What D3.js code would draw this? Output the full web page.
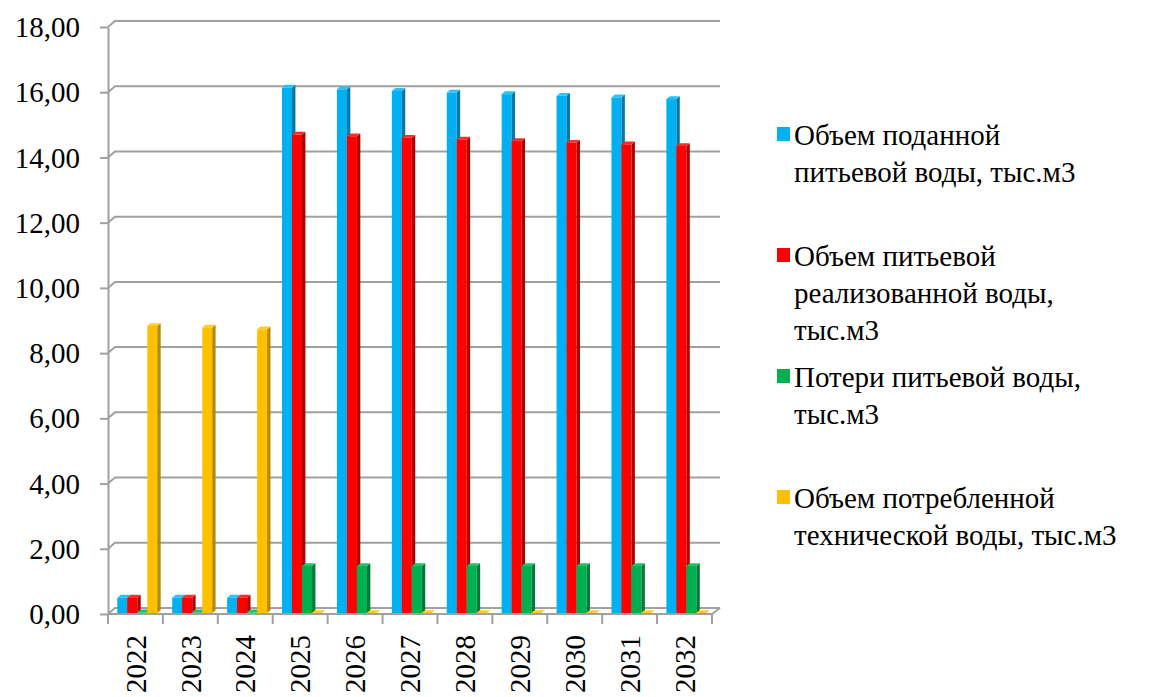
<!DOCTYPE html>
<html>
<head>
<meta charset="utf-8">
<script src="https://cdn.jsdelivr.net/npm/d3@7/dist/d3.min.js"></script>
</head>
<body style="margin:0">
<script>
var years = ["2022", "2023", "2024", "2025", "2026", "2027", "2028", "2029", "2030", "2031", "2032"];
var supplied = [0.47, 0.47, 0.47, 16.11, 16.06, 16.01, 15.96, 15.91, 15.86, 15.81, 15.76];
var realized = [0.47, 0.47, 0.47, 14.67, 14.62, 14.57, 14.52, 14.47, 14.42, 14.37, 14.32];
var losses = [0.02, 0.02, 0.02, 1.44, 1.44, 1.44, 1.44, 1.44, 1.44, 1.44, 1.44];
var technical = [8.80, 8.75, 8.70, 0, 0, 0, 0, 0, 0, 0, 0];
var yTicks = [0, 2, 4, 6, 8, 10, 12, 14, 16, 18];
var legendLines = [
    ["Объем поданной", "питьевой воды, тыс.м3"],
    ["Объем питьевой", "реализованной воды,", "тыс.м3"],
    ["Потери питьевой воды,", "тыс.м3"],
    ["Объем потребленной", "технической воды, тыс.м3"]
];

var series = [
    {key: "supplied", values: supplied, front: "#00b0f0", side: "#0479a8", top: "#2cc0f4"},
    {key: "realized", values: realized, front: "#ff0000", side: "#b00000", top: "#ff2a2a"},
    {key: "losses", values: losses, front: "#00b050", side: "#007a37", top: "#1fc066"},
    {key: "technical", values: technical, front: "#ffc000", side: "#b88a00", top: "#ffcb2a"}
];

var width = 1150, height = 697;
var left = 108, right = 712;
var depthX = 7, depthY = 6;      // wall depth
var barDX = 3.4, barDY = 2.8;    // bar depth
var gridColor = "#a0a0a0";
var fontName = "'Liberation Serif'";
var k = 29 / 40;                 // text drawn at 40px, scaled down to 29px

var svg = d3.select("body").append("svg")
    .attr("width", width)
    .attr("height", height);

var xScale = d3.scaleBand()
    .domain(years)
    .range([left, right]);

var sScale = d3.scaleBand()
    .domain(series.map(s => s.key))
    .range([9.3, 49.3]);

var yScale = d3.scaleLinear()
    .domain([0, 18])
    .range([614, 27]);

// helper: text placed at (x, y), optionally rotated
function label(parent, x, y, str, anchor, rot) {
    var g = parent.append("g")
        .attr("transform", "translate(" + x + "," + y + ")" + (rot ? " rotate(" + rot + ")" : "") + " scale(" + k + ")");
    return g.append("text")
        .attr("text-anchor", anchor || "start")
        .style("font-family", fontName)
        .style("font-size", "40px")
        .attr("fill", "#000")
        .text(str);
}

// back wall gridlines with the slanted left part
svg.append("g").selectAll("path")
    .data(yTicks)
    .enter().append("path")
    .attr("d", d => "M" + left + "," + yScale(d) +
        "L" + (left + depthX) + "," + (yScale(d) - depthY) +
        "L" + (right + depthX + 1) + "," + (yScale(d) - depthY))
    .attr("fill", "none")
    .attr("stroke", gridColor)
    .attr("stroke-width", 2);

// floor
svg.append("path")
    .attr("d", "M" + left + "," + yScale(0) + "L" + right + "," + yScale(0) +
        "L" + (right + depthX + 1) + "," + (yScale(0) - depthY))
    .attr("fill", "none")
    .attr("stroke", gridColor)
    .attr("stroke-width", 2);

// category ticks
var bounds = years.map(d => xScale(d)).concat([right]);
svg.append("g").selectAll("line")
    .data(bounds)
    .enter().append("line")
    .attr("x1", d => d).attr("x2", d => d)
    .attr("y1", yScale(0)).attr("y2", yScale(0) + 10)
    .attr("stroke", gridColor)
    .attr("stroke-width", 2);

// bars
var barBase = yScale(0) - 1;
var bw = sScale.bandwidth();

years.forEach((year, i) => {
    var g = svg.append("g");
    series.forEach(s => {
        var x0 = xScale(year) + sScale(s.key);
        var yTop = yScale(s.values[i]) - 1;
        g.append("rect")
            .attr("x", x0)
            .attr("y", yTop)
            .attr("width", bw)
            .attr("height", barBase - yTop)
            .attr("fill", s.front);
        g.append("path")
            .attr("d", "M" + (x0 + bw) + "," + yTop +
                "L" + (x0 + bw + barDX) + "," + (yTop - barDY) +
                "L" + (x0 + bw + barDX) + "," + (barBase - barDY) +
                "L" + (x0 + bw) + "," + barBase + "Z")
            .attr("fill", s.side);
        g.append("path")
            .attr("d", "M" + x0 + "," + yTop +
                "L" + (x0 + barDX) + "," + (yTop - barDY) +
                "L" + (x0 + bw + barDX) + "," + (yTop - barDY) +
                "L" + (x0 + bw) + "," + yTop + "Z")
            .attr("fill", s.top);
    });
});

// y axis line and ticks
var yAxis = d3.axisLeft(yScale)
    .tickValues(yTicks)
    .tickSize(8)
    .tickSizeOuter(0)
    .tickFormat("");

var yAxisG = svg.append("g")
    .attr("transform", "translate(" + left + ",0)")
    .call(yAxis);

yAxisG.selectAll("path, line")
    .attr("stroke", gridColor)
    .attr("stroke-width", 2);

// y tick labels
var yLabels = svg.append("g");
yTicks.forEach(d => {
    label(yLabels, 80, yScale(d), d.toFixed(2).replace(".", ","), "end")
        .attr("dy", "0.35em");
});

// year labels
var xLabels = svg.append("g");
years.forEach(d => {
    label(xLabels, xScale(d) + xScale.bandwidth() / 2, 635, d, "end", -90)
        .attr("dy", "0.35em");
});

// legend
var legend = svg.append("g");
series.forEach((s, i) => {
    var base = 145 + i * 121;
    legend.append("rect")
        .attr("x", 777)
        .attr("y", base - 18)
        .attr("width", 13)
        .attr("height", 14)
        .attr("fill", s.front);
    legendLines[i].forEach((line, j) => {
        label(legend, 794, base + j * 37, line, "start");
    });
});
</script>
</body>
</html>
